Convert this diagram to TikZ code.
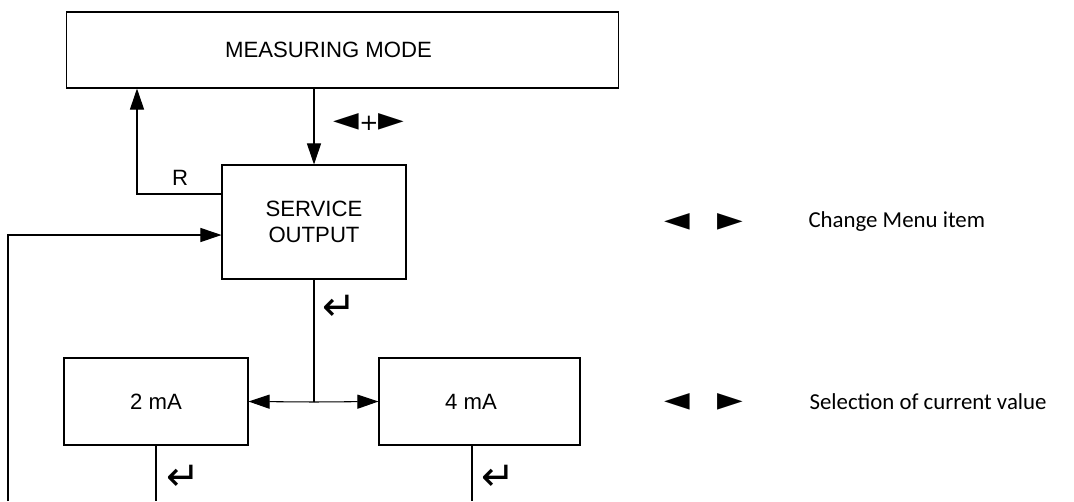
\documentclass[tikz,border=0pt]{standalone}
\usepackage{fontspec}
\setmainfont{Liberation Sans}
\newfontfamily\notefont{Carlito}
\newfontfamily\symfont{DejaVu Sans}
\usetikzlibrary{arrows.meta}
\begin{document}
\begin{tikzpicture}[x=0.02cm, y=-0.02cm, line width=0.6pt,
    box/.style={draw, rectangle, inner sep=0pt, font=\fontsize{12.6}{15}\selectfont, align=center},
    arr/.style={-{Triangle[length=12pt,width=8pt]}},
    key/.style={inner sep=0pt, font=\symfont\fontsize{19}{21}\selectfont},
    enter/.style={inner sep=0pt, font=\symfont\fontsize{23}{25}\selectfont},
    note/.style={anchor=west, inner sep=0pt, font=\notefont\fontsize{13}{15}\selectfont}]
    \useasboundingbox (0,0) rectangle (1074,501);
    % boxes
    \node[box, minimum width=11.06cm, minimum height=1.52cm] (mm) at (342.5,50) {MEASURING MODE\hspace{0.56cm}};
    \node[box, minimum width=3.68cm, minimum height=2.28cm] (svc) at (314,222) {SERVICE\\OUTPUT};
    \node[box, minimum width=3.68cm, minimum height=1.74cm] (ma2) at (156,401.5) {2 mA};
    \node[box, minimum width=4.02cm, minimum height=1.74cm] (ma4) at (479.5,401.5) {4 mA\hspace{0.34cm}};
    % key labels
    \node[key] (both) at (369,122) {◄\fontsize{13}{15}\selectfont+\fontsize{19}{21}\selectfont►};
    \node[inner sep=0pt, font=\fontsize{12.6}{15}\selectfont] (r) at (180,178) {R};
    \node[enter] (ent1) at (339,308) {↵};
    \node[enter] (ent2) at (183,478) {↵};
    \node[enter] (ent3) at (498,478) {↵};
    % legend
    \node[key] (lr1) at (704,222) {◄\hspace{0.55cm}►};
    \node[note] (n1) at (808,222) {Change Menu item};
    \node[key] (lr2) at (704,402) {◄\hspace{0.55cm}►};
    \node[note] (n2) at (809,402) {Selection of current value};
    % connectors
    \coordinate (rturn) at (137,194);
    \coordinate (loop) at (8,235);
    \coordinate (loopbot) at (8,501);
    \coordinate (branch) at (314,402);
    \coordinate (out2) at (156,501);
    \coordinate (out4) at (472,501);
    \draw[arr] (mm.south -| svc.north) -- (svc.north);
    \draw[arr] (svc.west |- rturn) -- (rturn) -- (rturn |- mm.south);
    \draw[arr] (loopbot) -- (loop) -- (loop -| svc.west);
    \draw (svc.south) -- (branch);
    \draw[arr] (branch) -- (ma2.east);
    \draw[arr] (branch) -- (ma4.west);
    \draw (ma2.south) -- (out2);
    \draw (ma4.south -| out4) -- (out4);
\end{tikzpicture}
\end{document}
